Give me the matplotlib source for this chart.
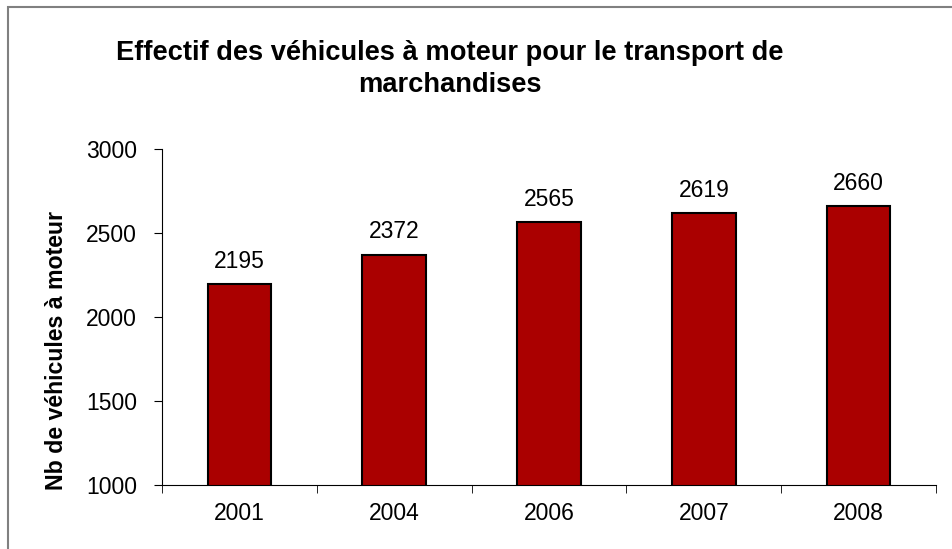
import matplotlib
matplotlib.use("Agg")
import matplotlib.pyplot as plt
from matplotlib.patches import Rectangle

# data
years = ["2001", "2004", "2006", "2007", "2008"]
vehicles = [2195, 2372, 2565, 2619, 2660]

title = "Effectif des véhicules à moteur pour le transport de\nmarchandises"
ylabel = "Nb de véhicules à moteur"

plt.rcParams["font.family"] = ["Liberation Sans", "DejaVu Sans"]

fig = plt.figure(figsize=(9.52, 5.49), dpi=100)
ax = fig.add_axes([0.1702, 0.1166, 0.8130, 0.6114])

x = range(len(years))
bars = ax.bar(x, vehicles, width=0.41, color="#aa0000", edgecolor="black", linewidth=1.5)

# value labels above the bars
for xi, v in zip(x, vehicles):
    ax.text(xi, v + 70, str(v), ha="center", va="bottom", fontsize=16.5)

ax.set_ylim(1000, 3000)
ax.set_yticks([1000, 1500, 2000, 2500, 3000])
ax.set_xlim(-0.5, len(years) - 0.5)
ax.set_xticks(list(x))
ax.set_xticklabels(years)
ax.tick_params(axis="x", length=0, labelsize=16.5, pad=12)
ax.tick_params(axis="y", length=6, direction="out", labelsize=16.5, pad=12)
# category separators on the x axis
ax.set_xticks([i - 0.5 for i in range(len(years) + 1)], minor=True)
ax.tick_params(axis="x", which="minor", length=6, direction="out")

for s in ["top", "right"]:
    ax.spines[s].set_visible(False)

ax.set_ylabel(ylabel, fontsize=16.7, fontweight="bold")
ax.yaxis.set_label_coords(68 / 952, (549 - 350) / 549, transform=fig.transFigure)

fig.text(450 / 952, 1 - 69 / 549, title, ha="center", va="center",
         fontsize=19.6, fontweight="bold", linespacing=1.34)

# outer frame of the chart area (right and bottom edges fall outside the image)
fig.patches.append(Rectangle((8 / 952, -0.1), 1.2, 1.1 - 7 / 549, transform=fig.transFigure,
                             fill=False, edgecolor="#808080", linewidth=1.5))

fig.savefig("out.png", dpi=100)
